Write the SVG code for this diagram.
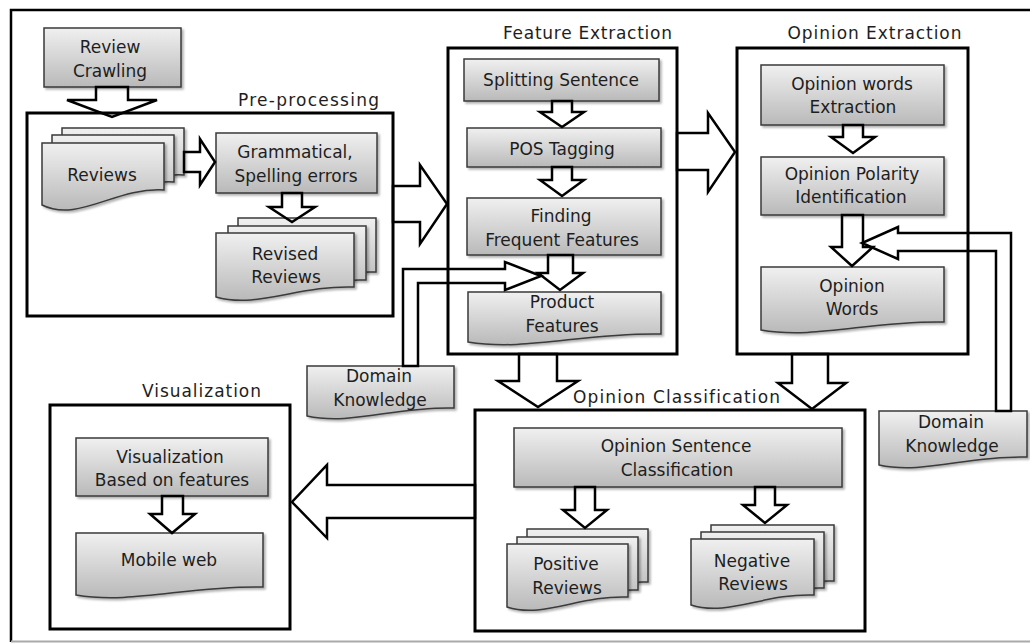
<svg xmlns="http://www.w3.org/2000/svg" width="1030" height="643" viewBox="0 0 1030 643">
<defs>
<linearGradient id="g" x1="0" y1="0" x2="0" y2="1">
<stop offset="0" stop-color="#f0f0f0"/>
<stop offset="1" stop-color="#b9b9b9"/>
</linearGradient>
<filter id="sh" x="-10%" y="-10%" width="130%" height="140%">
<feDropShadow dx="2" dy="2" stdDeviation="1.2" flood-color="#000" flood-opacity="0.3"/>
</filter>
</defs>
<style>
.box{fill:url(#g);stroke:#3a3a3a;stroke-width:1.5;filter:url(#sh)}
.cont{fill:#fff;stroke:#000;stroke-width:3}
.arr{fill:none;stroke:#000;stroke-width:2.5;stroke-linejoin:miter}
text{font-family:"DejaVu Sans","Noto Sans",sans-serif;font-size:17px;fill:#1e1e1e;text-anchor:middle}
.lbl{letter-spacing:1px}
</style>
<rect width="1030" height="643" fill="#fff"/>
<g id="frame">
<path d="M1030,10 H11 V642" fill="none" stroke="#000" stroke-width="2.5"/>
<line x1="11" y1="641.5" x2="1030" y2="641.5" stroke="#aaa" stroke-width="2"/>
</g>

<g id="preprocessing">
<rect class="cont" x="27" y="113" width="366" height="203"/>
<text class="lbl" x="309" y="106" textLength="142" lengthAdjust="spacing">Pre-processing</text>
</g>
<g id="feature-extraction">
<rect class="cont" x="448" y="48" width="229" height="306"/>
<text class="lbl" x="588" y="39" textLength="170" lengthAdjust="spacing">Feature Extraction</text>
</g>
<g id="opinion-extraction">
<rect class="cont" x="737" y="48" width="231" height="306"/>
<text class="lbl" x="875" y="39" textLength="175" lengthAdjust="spacing">Opinion Extraction</text>
</g>
<g id="visualization">
<rect class="cont" x="50" y="405" width="240" height="224"/>
<text class="lbl" x="202" y="397" textLength="120" lengthAdjust="spacing">Visualization</text>
</g>
<g id="opinion-classification">
<rect class="cont" x="475" y="410" width="390" height="221"/>
<text class="lbl" x="677" y="403" textLength="208" lengthAdjust="spacing">Opinion Classification</text>
</g>

<g id="review-crawling">
<rect class="box" x="44" y="28" width="137" height="59"/>
<text x="110" y="53">Review</text>
<text x="110" y="77">Crawling</text>
</g>
<g id="reviews">
<path class="box" d="M62,128 H184 V175 C135.2,172 98.6,208 62,190 Z"/>
<path class="box" d="M52,135 H174 V182 C125.2,179 88.6,215 52,197 Z"/>
<path class="box" d="M42,143 H164 V190 C115.2,187 78.6,223 42,205 Z"/>
<text x="102" y="181">Reviews</text>
</g>
<g id="grammatical">
<rect class="box" x="216" y="133" width="161" height="60"/>
<text x="295" y="158">Grammatical,</text>
<text x="296" y="182">Spelling errors</text>
</g>
<g id="revised-reviews">
<path class="box" d="M238,218 H376 V272 C320.8,270 279.4,294 238,282 Z"/>
<path class="box" d="M228,226 H366 V280 C310.8,278 269.4,302 228,290 Z"/>
<path class="box" d="M216,233 H354 V287 C298.8,285 257.4,309 216,297 Z"/>
<text x="285" y="260">Revised</text>
<text x="286" y="283">Reviews</text>
</g>
<g id="splitting-sentence">
<rect class="box" x="464" y="59" width="195" height="42"/>
<text x="561" y="86">Splitting Sentence</text>
</g>
<g id="pos-tagging">
<rect class="box" x="467" y="128" width="194" height="39"/>
<text x="562" y="155">POS Tagging</text>
</g>
<g id="finding-features">
<rect class="box" x="467" y="198" width="194" height="57"/>
<text x="561" y="222">Finding</text>
<text x="562" y="246">Frequent Features</text>
</g>
<g id="product-features">
<path class="box" d="M468,292 H661 V334 C583.8,332.4 525.9,351.6 468,342 Z"/>
<text x="562" y="308">Product</text>
<text x="562" y="332">Features</text>
</g>
<g id="opinion-words-extraction">
<rect class="box" x="761" y="65" width="183" height="60"/>
<text x="852" y="90">Opinion words</text>
<text x="853" y="113">Extraction</text>
</g>
<g id="opinion-polarity">
<rect class="box" x="761" y="157" width="183" height="58"/>
<text x="852" y="180">Opinion Polarity</text>
<text x="851" y="203">Identification</text>
</g>
<g id="opinion-words">
<path class="box" d="M761,267 H944 V322 C870.8,320.4 815.9,339.6 761,330 Z"/>
<text x="852" y="292">Opinion</text>
<text x="852" y="315">Words</text>
</g>
<g id="domain-knowledge-1">
<path class="box" d="M307,366 H454 V408 C395.2,406.4 351.1,425.6 307,416 Z"/>
<text x="379" y="382">Domain</text>
<text x="380" y="406">Knowledge</text>
</g>
<g id="domain-knowledge-2">
<path class="box" d="M879,411 H1027 V457 C967.8,455.4 923.4,474.6 879,465 Z"/>
<text x="951" y="428">Domain</text>
<text x="952" y="452">Knowledge</text>
</g>
<g id="visualization-features">
<rect class="box" x="76" y="438" width="192" height="58"/>
<text x="170" y="463">Visualization</text>
<text x="172" y="486">Based on features</text>
</g>
<g id="mobile-web">
<path class="box" d="M76,533 H263 V587 C188.2,585.4 132.1,604.6 76,595 Z"/>
<text x="169" y="566">Mobile web</text>
</g>
<g id="opinion-sentence-classification">
<rect class="box" x="514" y="428" width="328" height="59"/>
<text x="676" y="452">Opinion Sentence</text>
<text x="677" y="476">Classification</text>
</g>
<g id="positive-reviews">
<path class="box" d="M527,529 H648 V582 C599.6,580 563.3,604 527,592 Z"/>
<path class="box" d="M517,537 H638 V590 C589.6,588 553.3,612 517,600 Z"/>
<path class="box" d="M507,544 H628 V597 C579.6,595 543.3,619 507,607 Z"/>
<text x="566" y="570">Positive</text>
<text x="567" y="594">Reviews</text>
</g>
<g id="negative-reviews">
<path class="box" d="M711,525 H834 V581 C784.8,579 747.9,603 711,591 Z"/>
<path class="box" d="M701,532 H824 V588 C774.8,586 737.9,610 701,598 Z"/>
<path class="box" d="M691,539 H814 V595 C764.8,593 727.9,617 691,605 Z"/>
<text x="752" y="567">Negative</text>
<text x="753" y="590">Reviews</text>
</g>

<g id="connectors">
<polygon class="arr" points="96,87 128,87 128,100 157,100 112,117 67,100 96,100"/>
<polygon class="arr" points="184,152 200,152 200,139 215,162 200,185 200,172 184,172"/>
<polygon class="arr" points="282,193 302,193 302,207 315,207 292,222 269,207 282,207"/>
<polygon class="arr" points="393,186 420,186 420,165 447,204 420,244 420,222 393,222"/>
<polygon class="arr" points="552,101 572,101 572,112 584,112 562,127 540,112 552,112"/>
<polygon class="arr" points="552,167 572,167 572,180 584,180 562,196 540,180 552,180"/>
<polygon class="arr" points="548,255 573,255 573,273 583,273 560,290 538,273 548,273"/>
<polygon class="arr" points="677,133 708,133 708,113 735,152 708,192 708,170 677,170"/>
<polygon class="arr" points="843,125 863,125 863,137 875,137 853,153 831,137 843,137"/>
<polygon class="arr" points="842,215 863,215 863,247 873,247 852,266 831,247 842,247"/>
<polygon class="arr" points="1011,411 1011,233 898,233 898,227 862,243 898,259 898,251 996,251 996,411"/>
<polygon class="arr" points="403,366 403,269 505,269 505,262 541,276 505,290 505,283 418,283 418,366"/>
<polygon class="arr" points="519,354 557,354 557,381 578,381 538,407 498,381 519,381"/>
<polygon class="arr" points="792,354 828,354 828,383 846,383 812,409 778,383 792,383"/>
<polygon class="arr" points="575,487 595,487 595,510 607,510 585,528 563,510 575,510"/>
<polygon class="arr" points="755,487 775,487 775,505 787,505 765,523 743,505 755,505"/>
<polygon class="arr" points="162,496 183,496 183,514 195,514 172,533 150,514 162,514"/>
<polygon class="arr" points="475,485 327,485 327,465 292,502 327,538 327,518 475,518"/>
</g>
</svg>
